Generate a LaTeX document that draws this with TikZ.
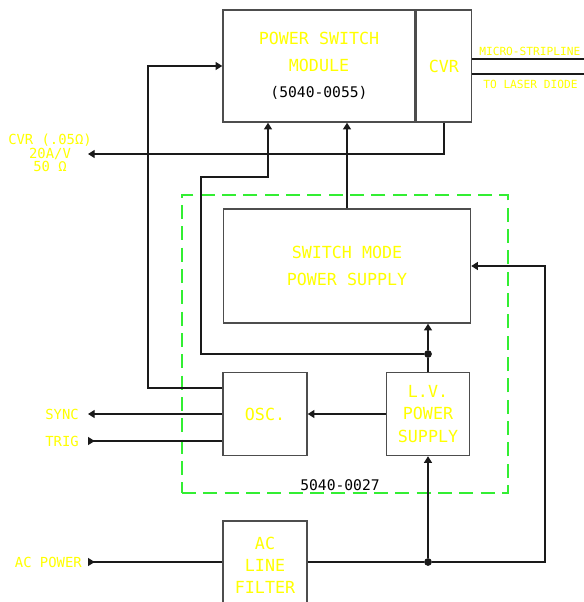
\documentclass[tikz,border=0pt]{standalone}
\usepackage{fontspec}
\newfontfamily\cadfont{DejaVu Sans Mono}
\usepackage{xcolor}
\definecolor{lbl}{HTML}{FFFF00}
\definecolor{pcb}{HTML}{33EE33}
\definecolor{wire}{HTML}{1A1A1A}
\definecolor{edge}{HTML}{4D4D4D}
\usepackage{tikz}
\usetikzlibrary{positioning,arrows.meta}

\begin{document}
\begin{tikzpicture}[x=0.75pt,y=-0.75pt,
  blk/.style={draw=edge,line width=1.1pt,inner sep=0pt,text=lbl,align=center,font=\cadfont\fontsize{12.5}{20}\selectfont},
  wr/.style={draw=wire,line width=1pt},
  arr/.style={wr,-{Triangle[length=5pt,width=6pt]}},
  rarr/.style={wr,{Triangle[length=5pt,width=6pt,reversed]}-},
  side/.style={text=lbl,font=\cadfont\fontsize{10.4}{10.2}\selectfont,inner sep=0pt,align=center},
  tiny/.style={text=lbl,font=\cadfont\fontsize{8.4}{10}\selectfont,inner sep=0pt,anchor=west},
  dot/.style={circle,fill=wire,inner sep=0pt,minimum size=5.8pt}]
  \useasboundingbox (0,0) rectangle (584,602);
  % group outline
  \node[draw=pcb,line width=0.8pt,dash pattern=on 10.5pt off 5.5pt,minimum width=244.5pt,minimum height=223.5pt] (pcb) at (345,344) {};
  \node[anchor=base,inner sep=0pt,font=\cadfont\fontsize{11}{12}\selectfont] (pcbno) at (340,490) {5040-0027};
  % blocks
  \node[blk,minimum width=144pt,minimum height=84pt] (psm) at (319,66) {POWER SWITCH\\MODULE\\{\color{black}\fontsize{11}{20}\selectfont (5040-0055)}};
  \node[blk,minimum width=41.25pt,minimum height=84pt,right=0pt of psm] (cvr) {CVR};
  \node[blk,minimum width=185.25pt,minimum height=85.5pt] (smps) at (347,266) {SWITCH MODE\\POWER SUPPLY};
  \node[blk,minimum width=63pt,minimum height=62.25pt] (osc) at (265,414) {OSC.};
  \node[blk,minimum width=62.25pt,minimum height=62.25pt,font=\cadfont\fontsize{12.5}{16.9}\selectfont] (lvps) at (428,414) {L.V.\\POWER\\SUPPLY};
  \node[blk,minimum width=63pt,minimum height=66pt,font=\cadfont\fontsize{12.5}{16.5}\selectfont] (filt) at (265,565) {AC\\LINE\\FILTER};
  \node[dot] (j1) at (428,354) {};
  \node[dot] (j2) at (428,562) {};
  % outside ends
  \coordinate (cvrout) at (88,154);
  \coordinate (sync) at (88,414);
  \coordinate (trig) at (88,441);
  \coordinate (acin) at (88,562);
  \coordinate (msl1) at (584,59);
  \coordinate (msl2) at (584,74);
  \node[side] (cvrlbl) at (50,153) {CVR (.05Ω)\\20A/V\\50 Ω};
  \node[side,anchor=east] (synclbl) at (79,414) {SYNC};
  \node[side,anchor=east] (triglbl) at (79,441) {TRIG};
  \node[side,anchor=east] (aclbl) at (82,562) {AC POWER};
  \node[tiny] (msllbl) at (479,51) {MICRO-STRIPLINE};
  \node[tiny] (ldlbl) at (483,84) {TO LASER DIODE};
  % connectors
  \draw[wr] (cvr.east |- msl1) -- (msl1);
  \draw[wr] (cvr.east |- msl2) -- (msl2);
  \draw[arr] (cvr.south) |- (cvrout);
  \draw[arr] (osc.west |- 0,388) -| (148,66) -- (psm.west);
  \draw[arr] (j1) -- (201,354) -- (201,177) -| (psm.south -| 268,0);
  \draw[arr] (smps.north) -- (smps.north |- psm.south);
  \draw[wr] (lvps.north) -- (j1);
  \draw[arr] (j1) -- (j1 |- smps.south);
  \draw[arr] (lvps.west) -- (osc.east);
  \draw[arr] (osc.west) -- (sync);
  \draw[rarr] (trig) -- (trig -| osc.west);
  \draw[rarr] (acin) -- (acin -| filt.west);
  \draw[wr] (acin -| filt.east) -- (j2);
  \draw[arr] (j2) -- (545,562) |- (smps.east);
  \draw[arr] (j2) -- (lvps.south);
\end{tikzpicture}
\end{document}
